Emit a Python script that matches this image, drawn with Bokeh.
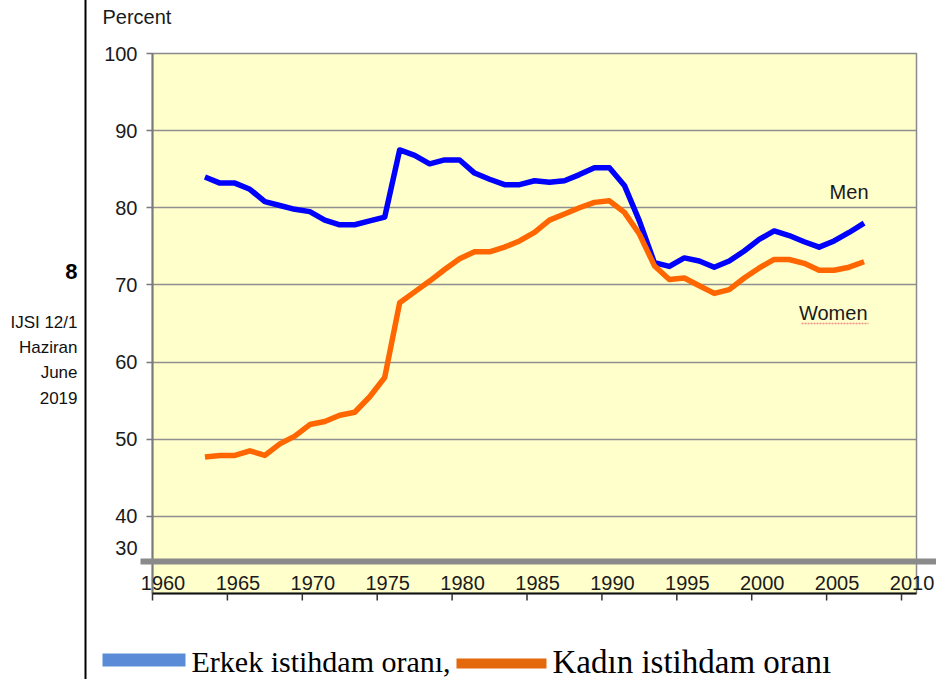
from bokeh.plotting import figure
from bokeh.models import Range1d, FixedTicker
from bokeh.core.properties import value
from bokeh.embed import file_html
from bokeh.resources import INLINE

# ---------------- data ----------------
years = list(range(1963, 2008))
men = [84.0, 83.2, 83.2, 82.4, 80.8, 80.3, 79.8, 79.5, 78.4, 77.8, 77.8, 78.3, 78.8,
       87.5, 86.8, 85.7, 86.2, 86.2, 84.5, 83.7, 83.0, 83.0, 83.5, 83.3, 83.5, 84.3, 85.2, 85.2,
       82.9, 78.3, 72.9, 72.4, 73.5, 73.1, 72.3, 73.1, 74.4, 75.9, 77.0, 76.4, 75.6, 74.9, 75.7, 76.8, 78.0]
women = [47.7, 47.9, 47.9, 48.5, 47.9, 49.4, 50.4, 51.9, 52.3, 53.1, 53.5, 55.5, 58.0,
         67.7, 69.1, 70.5, 72.0, 73.4, 74.3, 74.3, 74.9, 75.7, 76.8, 78.4, 79.2, 80.0, 80.7, 80.9,
         79.4, 76.6, 72.5, 70.7, 70.9, 69.9, 68.9, 69.4, 70.9, 72.2, 73.3, 73.3, 72.8, 71.9, 71.9, 72.3, 73.0]
x_ticks = [1960, 1965, 1970, 1975, 1980, 1985, 1990, 1995, 2000, 2005, 2010]
y_ticks = [40, 50, 60, 70, 80, 90, 100]
y_bottom_label = "30"
legend_labels = ["Erkek istihdam oranı,", "Kadın istihdam oranı"]
series_labels = ["Men", "Women"]
side_lines = ["IJSI 12/1", "Haziran", "June", "2019"]
page_number = "8"

# ---------------- geometry ----------------
W, H = 936, 679
FL, FR, FT, FB = 152, 20, 53, 86
FW, FH = W - FL - FR, H - FT - FB
X0, X1 = 1960, 2011
Y0, Y1 = 30, 100
X_SHIFT = 0.5  # points sit between category ticks


def fx(px):  # page x -> data x
    return X0 + (px - FL) * (X1 - X0) / FW


def fy(py):  # page y -> data y
    return Y1 - (py - FT) * (Y1 - Y0) / FH


SANS = value("Liberation Sans")
SERIF = value("Liberation Serif")
TXT = "#1a1a1a"

p = figure(width=W, height=H, x_range=Range1d(X0, X1), y_range=Range1d(Y0, Y1),
           output_backend="svg", toolbar_location=None,
           min_border_left=FL, min_border_right=FR, min_border_top=FT, min_border_bottom=FB,
           background_fill_color="#FFFFCC", border_fill_color="white")
p.outline_line_color = "#8a8a8a"
p.outline_line_width = 1.5

p.xgrid.visible = False
p.ygrid.ticker = FixedTicker(ticks=y_ticks)
p.ygrid.grid_line_color = "#8f8f8f"
p.ygrid.grid_line_width = 1.6

p.yaxis.ticker = FixedTicker(ticks=y_ticks)
p.yaxis.axis_line_color = "#7a7a7a"
p.yaxis.axis_line_width = 2
p.yaxis.major_tick_line_color = "#7a7a7a"
p.yaxis.major_tick_line_width = 1.5
p.yaxis.major_tick_out = 6
p.yaxis.major_tick_in = 0
p.yaxis.minor_tick_line_color = None
p.yaxis.major_label_standoff = 9
p.yaxis.major_label_text_font = "Liberation Sans"
p.yaxis.major_label_text_font_size = "20px"
p.yaxis.major_label_text_color = TXT

p.xaxis.visible = False

# data lines
xs = [y + X_SHIFT for y in years]
p.line(xs, men, line_color="#0000FF", line_width=5.5, line_join="round")
p.line(xs, women, line_color="#FF6600", line_width=5.5, line_join="round")

# black baseline and year ticks (below the frame)
p.segment(x0=[X0], y0=[Y0], x1=[X1], y1=[Y0], line_color="#111111", line_width=2,
          level="overlay")
p.segment(x0=x_ticks, y0=[Y0] * len(x_ticks), x1=x_ticks, y1=[fy(600)] * len(x_ticks),
          line_color="#333333", line_width=1.5, level="overlay")

# thick grey band across the bottom
p.segment(x0=[fx(140)], y0=[fy(561)], x1=[fx(940)], y1=[fy(561)],
          line_color="#8a8a8a", line_width=6, level="overlay")

# year labels drawn inside the frame
p.text(x=x_ticks, y=[fy(582)] * len(x_ticks), text=[str(t) for t in x_ticks],
       x_offset=10.5, text_align="center", text_baseline="middle",
       text_font=SANS, text_font_size="20px", text_color=TXT, level="overlay")

# "30" label
p.text(x=[fx(137)], y=[fy(547)], text=[y_bottom_label], text_align="right",
       text_baseline="middle", text_font=SANS, text_font_size="20px",
       text_color=TXT, level="overlay")

# "Percent"
p.text(x=[fx(102)], y=[fy(16)], text=["Percent"], text_align="left",
       text_baseline="middle", text_font=SANS, text_font_size="20px",
       text_color=TXT, level="overlay")

# series labels
p.text(x=[fx(868)], y=[fy(191)], text=[series_labels[0]], text_align="right",
       text_baseline="middle", text_font=SANS, text_font_size="20px",
       text_color=TXT, level="overlay")
p.text(x=[fx(867)], y=[fy(312)], text=[series_labels[1]], text_align="right",
       text_baseline="middle", text_font=SANS, text_font_size="20px",
       text_color=TXT, level="overlay")
p.segment(x0=[fx(801)], y0=[fy(323)], x1=[fx(868)], y1=[fy(323)],
          line_color="#F08C8C", line_width=1.5, line_dash="2 1", level="overlay")

# page margin decoration
p.segment(x0=[fx(85)], y0=[fy(-5)], x1=[fx(85)], y1=[fy(690)],
          line_color="#000000", line_width=2, level="overlay")
p.text(x=[fx(77)], y=[fy(271)], text=[page_number], text_align="right",
       text_baseline="middle", text_font=SANS, text_font_size="22px",
       text_font_style="bold", text_color="#000000", level="overlay")
p.text(x=[fx(77)] * len(side_lines), y=[fy(322 + 25 * i) for i in range(len(side_lines))],
       text=side_lines, text_align="right", text_baseline="middle",
       text_font=SANS, text_font_size="17px", text_color="#111111", level="overlay")

# caption legend
p.quad(left=[fx(102)], right=[fx(185)], top=[fy(653)], bottom=[fy(666)],
       fill_color="#5A8BD6", line_color=None, level="overlay")
p.text(x=[fx(191)], y=[fy(661)], text=[legend_labels[0]], text_align="left",
       text_baseline="middle", text_font=SERIF, text_font_size="30px",
       text_color="#000000", level="overlay")
p.quad(left=[fx(456)], right=[fx(546)], top=[fy(658)], bottom=[fy(668)],
       fill_color="#E4690C", line_color=None, level="overlay")
p.text(x=[fx(552)], y=[fy(661)], text=[legend_labels[1]], text_align="left",
       text_baseline="middle", text_font=SERIF, text_font_size="33px",
       text_color="#000000", level="overlay")

open("out.html", "w").write(file_html(p, INLINE))
